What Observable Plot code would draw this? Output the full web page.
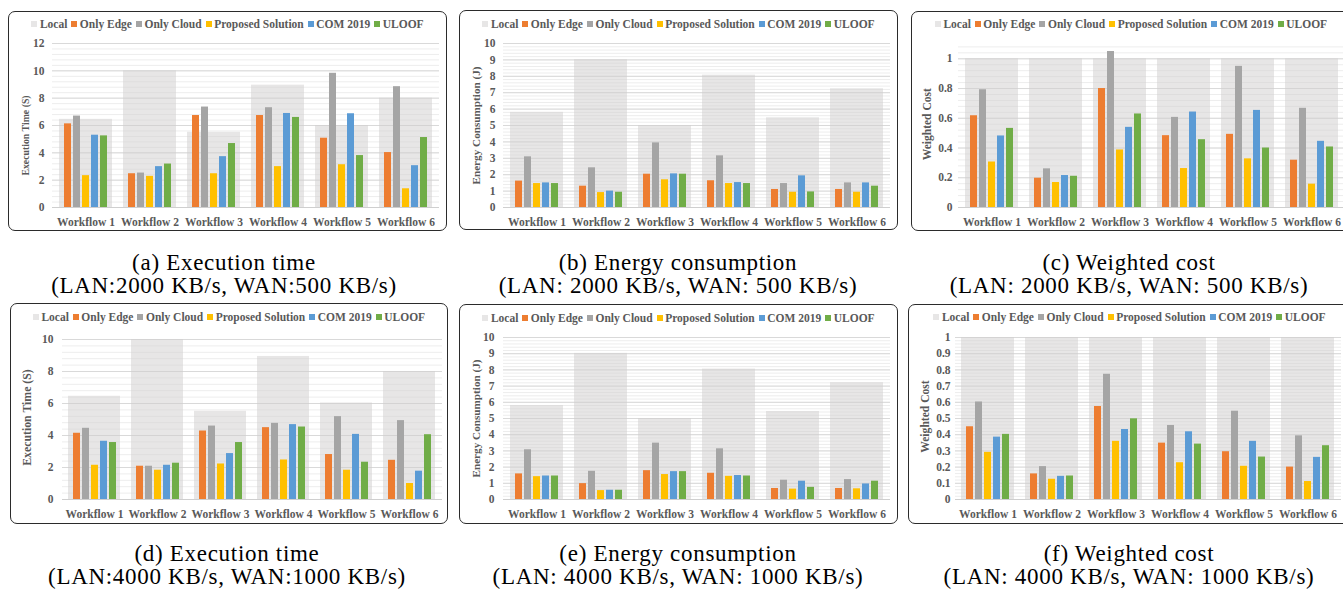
<!DOCTYPE html>
<html><head><meta charset="utf-8">
<script src="https://cdn.jsdelivr.net/npm/d3@7"></script>
<script src="https://cdn.jsdelivr.net/npm/@observablehq/plot@0.6"></script>
<style>
body{margin:0;width:1343px;height:590px;overflow:hidden;background:#fff;position:relative;font-family:"Liberation Serif",serif;}
.box{position:absolute;border:1.5px solid #2b2b2b;border-radius:7px;box-sizing:border-box;}
.legend{position:absolute;display:flex;justify-content:center;align-items:center;font:bold 11.5px "Liberation Serif",serif;color:#595959;white-space:nowrap;}
.legend .item{display:flex;align-items:center;margin:0 2px;}
.legend .sw{display:inline-block;width:6px;height:6px;margin-right:2.5px;}
.cap{position:absolute;text-align:center;font-size:23px;line-height:23px;letter-spacing:0.7px;color:#000;white-space:nowrap;transform:translateX(-50%);}
.chart{position:absolute;}
.chart svg{position:absolute;left:0;top:0;}
</style></head><body>
<script>
const workflows = ["Workflow 1","Workflow 2","Workflow 3","Workflow 4","Workflow 5","Workflow 6"];
const series = ["Local","Only Edge","Only Cloud","Proposed Solution","COM 2019","ULOOF"];
const colors = ["#E7E6E6","#ED7D31","#A5A5A5","#FFC000","#5B9BD5","#70AD47"];

// (a) Execution time, LAN 2000 / WAN 500
const aLocal    = [6.45, 10.0, 5.5, 8.95, 6.0, 8.0];
const aEdge     = [6.12, 2.47, 6.73, 6.73, 5.07, 4.02];
const aCloud    = [6.69, 2.52, 7.35, 7.30, 9.82, 8.84];
const aProposed = [2.33, 2.28, 2.47, 2.99, 3.13, 1.37];
const aCom      = [5.29, 2.99, 3.72, 6.88, 6.86, 3.06];
const aUloof    = [5.24, 3.18, 4.68, 6.59, 3.80, 5.12];
// (b) Energy consumption, LAN 2000 / WAN 500
const bLocal    = [5.8, 9.02, 5.0, 8.07, 5.47, 7.24];
const bEdge     = [1.61, 1.30, 2.03, 1.63, 1.10, 1.10];
const bCloud    = [3.09, 2.42, 3.94, 3.15, 1.46, 1.50];
const bProposed = [1.46, 0.91, 1.69, 1.46, 0.93, 0.93];
const bCom      = [1.50, 1.00, 2.05, 1.52, 1.93, 1.50];
const bUloof    = [1.46, 0.93, 2.03, 1.46, 0.95, 1.30];
// (c) Weighted cost, LAN 2000 / WAN 500
const cLocal    = [1, 1, 1, 1, 1, 1];
const cEdge     = [0.617, 0.197, 0.80, 0.483, 0.492, 0.318];
const cCloud    = [0.792, 0.26, 1.049, 0.606, 0.949, 0.667];
const cProposed = [0.306, 0.168, 0.387, 0.262, 0.327, 0.157];
const cCom      = [0.481, 0.215, 0.539, 0.642, 0.653, 0.445];
const cUloof    = [0.532, 0.21, 0.629, 0.456, 0.40, 0.407];
// (d) Execution time, LAN 4000 / WAN 1000
const dLocal    = [6.45, 10.0, 5.51, 8.94, 6.03, 8.0];
const dEdge     = [4.14, 2.08, 4.28, 4.49, 2.81, 2.45];
const dCloud    = [4.45, 2.08, 4.59, 4.76, 5.18, 4.93];
const dProposed = [2.14, 1.83, 2.22, 2.47, 1.83, 1.0];
const dCom      = [3.64, 2.14, 2.87, 4.68, 4.07, 1.77];
const dUloof    = [3.56, 2.27, 3.56, 4.53, 2.33, 4.05];
// (e) Energy consumption, LAN 4000 / WAN 1000
const eLocal    = [5.8, 9.02, 5.0, 8.05, 5.43, 7.21];
const eEdge     = [1.58, 0.98, 1.78, 1.62, 0.68, 0.68];
const eCloud    = [3.07, 1.74, 3.48, 3.13, 1.19, 1.23];
const eProposed = [1.41, 0.55, 1.54, 1.43, 0.64, 0.66];
const eCom      = [1.45, 0.57, 1.72, 1.48, 1.13, 0.96];
const eUloof    = [1.45, 0.57, 1.72, 1.45, 0.75, 1.13];
// (f) Weighted cost, LAN 4000 / WAN 1000
const fLocal    = [1, 1, 1, 1, 1, 1];
const fEdge     = [0.449, 0.158, 0.574, 0.348, 0.295, 0.20];
const fCloud    = [0.602, 0.203, 0.773, 0.457, 0.545, 0.393];
const fProposed = [0.291, 0.125, 0.359, 0.227, 0.205, 0.111];
const fCom      = [0.385, 0.143, 0.432, 0.418, 0.359, 0.26];
const fUloof    = [0.402, 0.145, 0.498, 0.342, 0.262, 0.332];

// tick labels
const ticksTime   = [0, 2, 4, 6, 8, 10, 12];
const ticksTime2  = [0, 2, 4, 6, 8, 10];
const ticksEnergy = [0, 1, 2, 3, 4, 5, 6, 7, 8, 9, 10];
const ticksCostC  = [0, 0.2, 0.4, 0.6, 0.8, 1];
const ticksCostF  = [0, 0.1, 0.2, 0.3, 0.4, 0.5, 0.6, 0.7, 0.8, 0.9, 1];

const yLabels = ["Execution Time (S)", "Energy Consumption (J)", "Weighted Cost"];
const captions = [
  ["(a) Execution time", "(LAN:2000 KB/s, WAN:500 KB/s)"],
  ["(b) Energy consumption", "(LAN: 2000 KB/s, WAN: 500 KB/s)"],
  ["(c) Weighted cost", "(LAN: 2000 KB/s, WAN: 500 KB/s)"],
  ["(d) Execution time", "(LAN:4000 KB/s, WAN:1000 KB/s)"],
  ["(e) Energy consumption", "(LAN: 4000 KB/s, WAN: 1000 KB/s)"],
  ["(f) Weighted cost", "(LAN: 4000 KB/s, WAN: 1000 KB/s)"]
];

const panels = [
  {vals: [aLocal,aEdge,aCloud,aProposed,aCom,aUloof], ticks: ticksTime, ymax: 12, minor: 0.4, label: yLabels[0], cap: captions[0],
   box: [8, 11, 439, 220], x0: 52, x1: 439, y0: 207, yTop: 43, legY: 24, capX: 224, capY: 251, labDx: -27, labDy: 10, labFs: 9.8, tickDx: -8},
  {vals: [bLocal,bEdge,bCloud,bProposed,bCom,bUloof], ticks: ticksEnergy, ymax: 10, minor: 0.2, label: yLabels[1], cap: captions[1],
   box: [459, 10, 439, 220], x0: 503, x1: 890, y0: 207, yTop: 43, legY: 24, capX: 678, capY: 251, labDx: -27, labDy: 0, labFs: 11.2, tickDx: -8},
  {vals: [cLocal,cEdge,cCloud,cProposed,cCom,cUloof], ticks: ticksCostC, ymax: 1.08, minor: 0.04, label: yLabels[2], cap: captions[2],
   box: [911, 11, 440, 220], x0: 958, x1: 1346, y0: 207, yTop: 46.4, legY: 24, capX: 1129, capY: 251, labDx: -31, labDy: -3, labFs: 11.5, tickDx: -6},
  {vals: [dLocal,dEdge,dCloud,dProposed,dCom,dUloof], ticks: ticksTime2, ymax: 10, minor: 0.4, label: yLabels[0], cap: captions[3],
   box: [10, 303, 438, 221], x0: 62, x1: 442, y0: 499, yTop: 339, legY: 317, capX: 227, capY: 542, labDx: -35, labDy: -2, labFs: 11.8, tickDx: -9},
  {vals: [eLocal,eEdge,eCloud,eProposed,eCom,eUloof], ticks: ticksEnergy, ymax: 10, minor: 0.2, label: yLabels[1], cap: captions[4],
   box: [459, 304, 439, 220], x0: 503, x1: 890, y0: 499, yTop: 337, legY: 318, capX: 678, capY: 542, labDx: -27, labDy: 0, labFs: 11.2, tickDx: -9},
  {vals: [fLocal,fEdge,fCloud,fProposed,fCom,fUloof], ticks: ticksCostF, ymax: 1, minor: 0.02, label: yLabels[2], cap: captions[5],
   box: [908, 304, 443, 220], x0: 955, x1: 1341, y0: 499, yTop: 337, legY: 317, capX: 1129, capY: 542, labDx: -30, labDy: -2, labFs: 11.6, tickDx: -5}
];

const fmt = d => String(+d.toFixed(2));

function el(cls, left, top, width, height) {
  const e = document.createElement("div");
  e.className = cls;
  e.style.left = left + "px"; e.style.top = top + "px";
  if (width != null) e.style.width = width + "px";
  if (height != null) e.style.height = height + "px";
  document.body.appendChild(e);
  return e;
}

const baseStyle = {fontFamily: "'Liberation Serif', serif", fontWeight: "bold", fontSize: "11.5px", color: "#595959", background: "transparent", overflow: "visible"};

for (const p of panels) {
  const [bl, bt, bw, bh] = p.box;
  el("box", bl, bt, bw, bh);

  const lg = el("legend", bl, p.legY - 8, bw, 16);
  series.forEach((s, i) => {
    const it = document.createElement("span"); it.className = "item";
    const sw = document.createElement("span"); sw.className = "sw"; sw.style.background = colors[i];
    it.appendChild(sw); it.appendChild(document.createTextNode(s));
    lg.appendChild(it);
  });

  const legendH = 22;
  const top = bt + legendH, height = bh - legendH;
  const bars = [];
  series.slice(1).forEach((s, si) => workflows.forEach((w, wi) => bars.push({w, s, v: p.vals[si + 1][wi]})));
  const local = workflows.map((w, wi) => ({w, v: p.vals[0][wi]}));
  const nMinor = Math.round(p.ymax / p.minor);
  const minorTicks = d3.range(nMinor + 1).map(i => +(i * p.minor).toFixed(4));

  const common = {
    width: bw, height,
    marginLeft: p.x0 - bl, marginRight: bl + bw - p.x1,
    marginTop: p.yTop - top, marginBottom: bt + bh - p.y0,
    style: baseStyle
  };

  // background layer: gridlines, y tick labels, y title
  const back = Plot.plot({
    ...common,
    y: {domain: [0, p.ymax], axis: null},
    marks: [
      Plot.ruleY(minorTicks, {stroke: "#EDEDED", strokeWidth: 1}),
      Plot.ruleY(p.ticks, {stroke: "#D9D9D9", strokeWidth: 1}),
      Plot.ruleY([0], {stroke: "#CFCFCF", strokeWidth: 1.2}),
      Plot.text(p.ticks, {y: d => d, text: fmt, frameAnchor: "left", textAnchor: "end", dx: p.tickDx}),
      Plot.text([p.label], {text: d => d, frameAnchor: "left", textAnchor: "middle", rotate: -90, dx: p.labDx, dy: p.labDy, fontSize: p.labFs})
    ]
  });

  // foreground layer: grouped bars faceted by workflow
  const front = Plot.plot({
    ...common,
    fx: {domain: workflows, paddingInner: 0.17, paddingOuter: 0.09, label: null, axis: "bottom", tickSize: 0, tickPadding: 10},
    x: {domain: series.slice(1), paddingInner: 0.23, paddingOuter: 0.3, axis: null},
    y: {domain: [0, p.ymax], axis: null},
    color: {domain: series, range: colors},
    marks: [
      Plot.barY(local, {fx: "w", y: "v", fill: "#CFCDCD", fillOpacity: 0.5}),
      Plot.barY(bars, {fx: "w", x: "s", y: "v", fill: "s"})
    ]
  });

  const wrap = el("chart", bl, top, bw, height);
  wrap.appendChild(back);
  wrap.appendChild(front);

  const cap = el("cap", p.capX, p.capY);
  cap.innerHTML = p.cap[0] + "<br>" + p.cap[1];
}
</script>
</body></html>
